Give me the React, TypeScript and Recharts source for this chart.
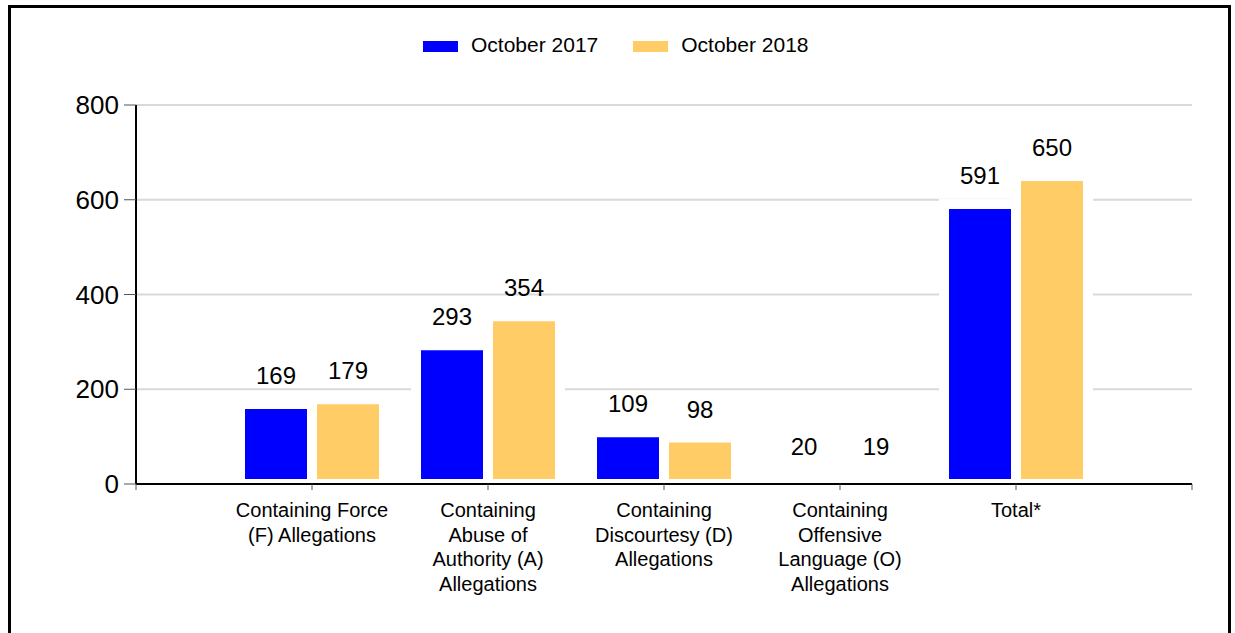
import { BarChart, Bar, XAxis, YAxis, CartesianGrid, LabelList } from "recharts";

const categoryLabels = [
  ["Containing Force", "(F) Allegations"],
  ["Containing", "Abuse of", "Authority (A)", "Allegations"],
  ["Containing", "Discourtesy (D)", "Allegations"],
  ["Containing", "Offensive", "Language (O)", "Allegations"],
  ["Total*"],
];
const october2017 = [169, 293, 109, 20, 591];
const october2018 = [179, 354, 98, 19, 650];
const yTicks = [0, 200, 400, 600, 800];

const BLUE = "#0000ff";
const GOLD = "#ffcc66";
const FONT = "'Liberation Sans', Arial, sans-serif";

const data = categoryLabels.map((lines, i) => ({
  x: i + 1,
  lines,
  oct2017: october2017[i],
  oct2018: october2018[i],
}));
const xTicks = [0, ...data.map((d) => d.x), data.length + 1];

function CategoryTick({ x, y, payload }: any) {
  const row = data.find((d) => d.x === payload.value);
  if (!row) return null;
  return (
    <text x={x} y={y} textAnchor="middle" fill="#000" fontSize={20} fontFamily={FONT}>
      {row.lines.map((line, i) => (
        <tspan key={i} x={x} y={y + 25 + i * 24.5}>
          {line}
        </tspan>
      ))}
    </text>
  );
}

function ChartLegend() {
  const items = [
    { label: "October 2017", color: BLUE },
    { label: "October 2018", color: GOLD },
  ];
  return (
    <div
      style={{
        position: "absolute",
        left: 423,
        top: 34,
        display: "flex",
        gap: 35,
        fontFamily: FONT,
        fontSize: 21,
        lineHeight: "21px",
      }}
    >
      {items.map((it) => (
        <div key={it.label} style={{ display: "flex", alignItems: "flex-start" }}>
          <span style={{ display: "inline-block", width: 35, height: 11, marginTop: 7, background: it.color, marginRight: 13 }} />
          <span style={{ color: "#000", whiteSpace: "nowrap" }}>{it.label}</span>
        </div>
      ))}
    </div>
  );
}

export default function App() {
  return (
    <div>
      <div
        style={{
          position: "absolute",
          left: 8,
          top: 5,
          width: 1223,
          height: 700,
          border: "3px solid #000",
          boxSizing: "border-box",
        }}
      />
      <div style={{ position: "absolute", left: 0, top: 0 }}>
        <BarChart
          width={1235}
          height={633}
          data={data}
          margin={{ top: 105, right: 43, left: 76, bottom: 19 }}
          barGap={0}
          barSize={72}
        >
          <CartesianGrid horizontal vertical={false} stroke="#d9d9d9" strokeWidth={2} />
          <Bar dataKey="oct2017" fill={BLUE} stroke="#fff" strokeWidth={10} isAnimationActive={false}>
            <LabelList dataKey="oct2017" position="top" offset={20} fill="#000" fontSize={24} fontFamily={FONT} />
          </Bar>
          <Bar dataKey="oct2018" fill={GOLD} stroke="#fff" strokeWidth={10} isAnimationActive={false}>
            <LabelList dataKey="oct2018" position="top" offset={20} fill="#000" fontSize={24} fontFamily={FONT} />
          </Bar>
          <YAxis
            width={60}
            domain={[0, 800]}
            ticks={yTicks}
            interval={0}
            axisLine={{ stroke: "#000", strokeWidth: 2 }}
            tickLine={{ stroke: "#555" }}
            tickSize={12}
            tickMargin={5}
            tick={{ fill: "#000", fontSize: 26, fontFamily: FONT }}
          />
          <XAxis
            type="number"
            dataKey="x"
            domain={[0, xTicks[xTicks.length - 1]]}
            ticks={xTicks}
            interval={0}
            height={130}
            axisLine={{ stroke: "#000", strokeWidth: 2 }}
            tickLine={{ stroke: "#555" }}
            tickSize={6}
            tick={<CategoryTick />}
          />
        </BarChart>
      </div>
      <ChartLegend />
    </div>
  );
}
